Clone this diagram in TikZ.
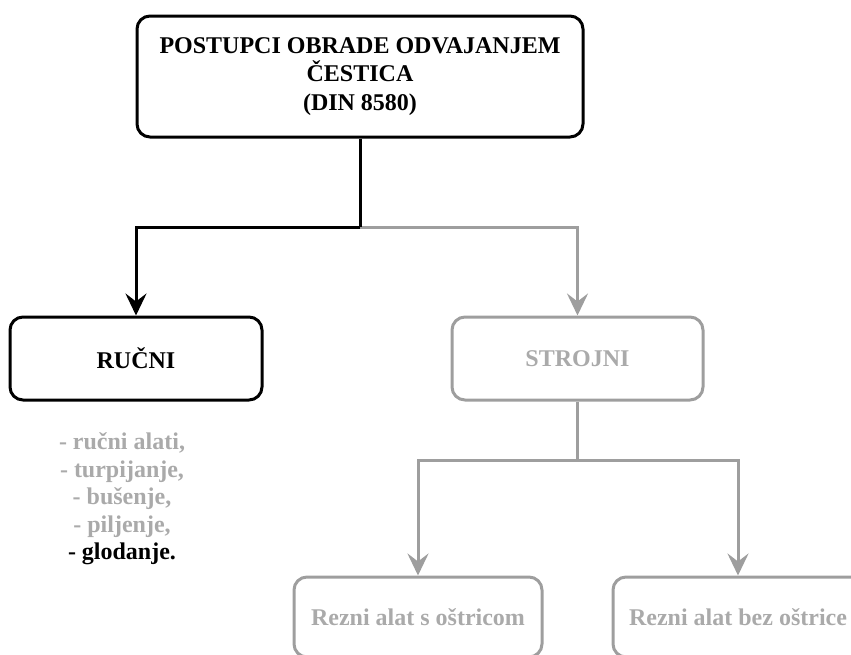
\documentclass[tikz,border=0pt]{standalone}
\usepackage{fontspec}
\setmainfont{Liberation Serif}
\usetikzlibrary{arrows.meta}
\definecolor{lgray}{HTML}{9E9E9E}
\definecolor{tgray}{HTML}{AAAAAA}
\begin{document}
\begin{tikzpicture}[x=1pt,y=-1pt,
  boxbase/.style={rounded corners=13pt, line width=3pt, align=center, inner sep=0pt,
    font=\fontsize{24}{28.5}\selectfont\bfseries},
  blackbox/.style={boxbase, draw=black, text=black},
  graybox/.style={boxbase, draw=lgray, text=tgray},
  tip/.style={-{Stealth[length=22pt,width=21pt,inset=8pt]}},
  blackline/.style={line width=3pt, draw=black, tip},
  grayline/.style={line width=3pt, draw=lgray, tip, color=lgray},
  plainblack/.style={line width=3pt, draw=black},
  plaingray/.style={line width=3pt, draw=lgray}
]
\useasboundingbox (0,0) rectangle (851,654);
\clip (0,0) rectangle (851,654);

\node[blackbox, minimum width=446pt, minimum height=121pt] (top) at (360,76.5)
  {POSTUPCI OBRADE ODVAJANJEM\\ČESTICA\\(DIN 8580)};
\node[blackbox, minimum width=252pt, minimum height=83pt] (ruc) at (136,358.5) {RUČNI};
\node[graybox, minimum width=251pt, minimum height=83pt] (str) at (577.5,358.5) {STROJNI};
\node[graybox, minimum width=248pt, minimum height=80pt] (b1) at (418,617) {Rezni alat s oštricom};
\node[graybox, minimum width=250pt, minimum height=80pt] (b2) at (738,617) {Rezni alat bez oštrice};

\node[align=center, inner sep=0pt, font=\fontsize{24}{27.5}\selectfont\bfseries, text=tgray] (list) at (122,499)
  {- ručni alati,\\- turpijanje,\\- bušenje,\\- piljenje,\\\textcolor{black}{- glodanje.}};

\coordinate (j1) at (360,227);
\coordinate (j2) at (577.5,460);

\draw[grayline] (j1) -| (str.north);
\draw[plainblack] (top.south) -- (j1);
\draw[blackline] (j1) -| (ruc.north);

\draw[plaingray] (str.south) -- (j2);
\draw[grayline] (j2) -| (b1.north);
\draw[grayline] (j2) -| (b2.north);
\end{tikzpicture}
\end{document}
